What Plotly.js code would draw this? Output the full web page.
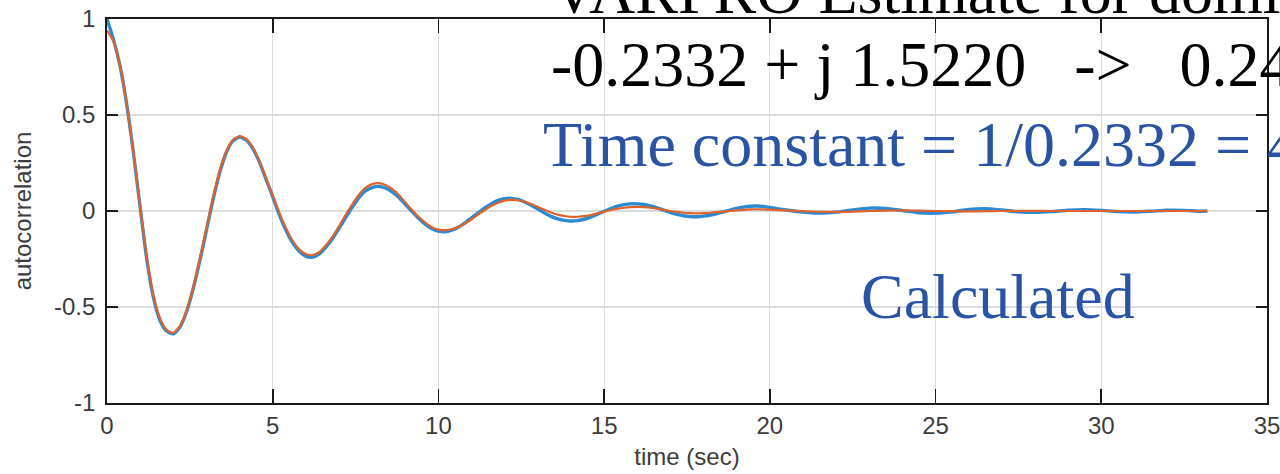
<!DOCTYPE html>
<html>
<head>
<meta charset="utf-8">
<script src="https://cdn.plot.ly/plotly-3.0.1.min.js"></script>
<style>
  html, body { margin: 0; padding: 0; background: #ffffff; }
  #chart { width: 1280px; height: 474px; }
</style>
</head>
<body>
<div id="chart"></div>
<script>
// Lag axis (seconds)
const lagSec = [
  0.0, 0.2, 0.4, 0.6, 0.8, 1.0, 1.2, 1.4, 1.6, 1.8,
  2.0, 2.2, 2.4, 2.6, 2.8, 3.0, 3.2, 3.4, 3.6, 3.8,
  4.0, 4.2, 4.4, 4.6, 4.8, 5.0, 5.2, 5.4, 5.6, 5.8,
  6.0, 6.2, 6.4, 6.6, 6.8, 7.0, 7.2, 7.4, 7.6, 7.8,
  8.0, 8.2, 8.4, 8.6, 8.8, 9.0, 9.2, 9.4, 9.6, 9.8,
  10.0, 10.2, 10.4, 10.6, 10.8, 11.0, 11.2, 11.4, 11.6, 11.8,
  12.0, 12.2, 12.4, 12.6, 12.8, 13.0, 13.2, 13.4, 13.6, 13.8,
  14.0, 14.2, 14.4, 14.6, 14.8, 15.0, 15.2, 15.4, 15.6, 15.8,
  16.0, 16.2, 16.4, 16.6, 16.8, 17.0, 17.2, 17.4, 17.6, 17.8,
  18.0, 18.2, 18.4, 18.6, 18.8, 19.0, 19.2, 19.4, 19.6, 19.8,
  20.0, 20.5, 21.0, 21.5, 22.0, 22.5, 23.0, 23.5, 24.0, 24.5,
  25.0, 25.5, 26.0, 26.5, 27.0, 27.5, 28.0, 28.5, 29.0, 29.5,
  30.0, 30.5, 31.0, 31.5, 32.0, 32.5, 33.0, 33.2
];

// Autocorrelation measured from the data record
const measuredAcf = [
  1.000, 0.890, 0.750, 0.550, 0.300, 0.020, -0.250, -0.450, -0.570, -0.625,
  -0.640, -0.605, -0.525, -0.405, -0.260, -0.100, 0.060, 0.200, 0.305, 0.365,
  0.385, 0.370, 0.325, 0.255, 0.165, 0.075, -0.020, -0.100, -0.165, -0.210,
  -0.235, -0.240, -0.225, -0.190, -0.145, -0.090, -0.035, 0.020, 0.070, 0.105,
  0.122, 0.128, 0.120, 0.100, 0.072, 0.035, -0.002, -0.038, -0.068, -0.092,
  -0.105, -0.108, -0.100, -0.085, -0.062, -0.036, -0.010, 0.016, 0.038, 0.055,
  0.064, 0.066, 0.060, 0.047, 0.030, 0.010, -0.010, -0.028, -0.041, -0.049,
  -0.052, -0.050, -0.043, -0.031, -0.016, -0.001, 0.013, 0.025, 0.033, 0.037,
  0.037, 0.034, 0.026, 0.016, 0.004, -0.008, -0.018, -0.025, -0.029, -0.030,
  -0.027, -0.021, -0.013, -0.004, 0.005, 0.013, 0.020, 0.025, 0.026, 0.024,
  0.018, 0.005, -0.006, -0.011, -0.006, 0.006, 0.015, 0.013, 0.002, -0.009,
  -0.011, -0.004, 0.008, 0.012, 0.005, -0.004, -0.007, -0.003, 0.004, 0.007,
  0.003, -0.003, -0.005, -0.001, 0.004, 0.003, -0.001, 0.000
];

// Autocorrelation of the fitted two-pole model
const calculatedAcf = [
  0.940, 0.880, 0.750, 0.550, 0.300, 0.020, -0.240, -0.440, -0.560, -0.620,
  -0.635, -0.600, -0.520, -0.400, -0.250, -0.090, 0.070, 0.210, 0.310, 0.370,
  0.390, 0.375, 0.330, 0.260, 0.170, 0.080, -0.010, -0.090, -0.155, -0.200,
  -0.225, -0.230, -0.215, -0.180, -0.135, -0.080, -0.020, 0.035, 0.085, 0.120,
  0.140, 0.145, 0.135, 0.115, 0.085, 0.045, 0.005, -0.030, -0.060, -0.085,
  -0.097, -0.100, -0.095, -0.083, -0.065, -0.043, -0.018, 0.005, 0.027, 0.043,
  0.054, 0.058, 0.056, 0.048, 0.036, 0.021, 0.006, -0.008, -0.019, -0.026,
  -0.030, -0.030, -0.027, -0.021, -0.013, -0.004, 0.005, 0.012, 0.017, 0.020,
  0.021, 0.020, 0.017, 0.012, 0.006, 0.000, -0.005, -0.009, -0.011, -0.012,
  -0.011, -0.009, -0.006, -0.003, 0.000, 0.003, 0.006, 0.008, 0.009, 0.008,
  0.007, 0.003, -0.001, -0.004, -0.005, -0.003, 0.000, 0.002, 0.003, 0.002,
  0.000, -0.001, -0.002, -0.001, 0.000, 0.001, 0.001, 0.000, 0.000, 0.000,
  0.000, 0.000, 0.000, 0.000, 0.000, 0.000, 0.000, 0.000
];

const xTicks = [0, 5, 10, 15, 20, 25, 30, 35];
const xTickText = ['0', '5', '10', '15', '20', '25', '30', '35'];
const yTicks = [-1, -0.5, 0, 0.5, 1];
const yTickText = ['-1', '-0.5', '0', '0.5', '1'];

const serif = 'Liberation Serif, Times New Roman, serif';
const sans = 'Liberation Sans, Arial, Helvetica, sans-serif';
const noteBlue = '#2a53a8';
const labelGray = '#3c3c3c';

const traces = [
  {
    x: lagSec, y: measuredAcf, type: 'scatter', mode: 'lines',
    line: { color: '#2b8ad2', width: 3.4, shape: 'spline', smoothing: 0.6 },
    hoverinfo: 'skip'
  },
  {
    x: lagSec, y: calculatedAcf, type: 'scatter', mode: 'lines',
    line: { color: '#e0622a', width: 2.2, shape: 'spline', smoothing: 0.6 },
    hoverinfo: 'skip'
  }
];

const axisCommon = {
  showline: true, linecolor: '#1a1a1a', linewidth: 1.8, mirror: 'allticks',
  ticks: 'inside', tickcolor: '#1a1a1a', tickwidth: 1.8,
  showgrid: true, gridcolor: '#dcdcdc', gridwidth: 1.2,
  zeroline: false, tickmode: 'array', ticklabeloverflow: 'allow',
  tickfont: { family: sans, size: 24, color: labelGray }
};

const layout = {
  width: 1280, height: 474,
  margin: { l: 107, r: 13, t: 19, b: 71 },
  paper_bgcolor: '#ffffff', plot_bgcolor: '#ffffff',
  showlegend: false,
  xaxis: Object.assign({}, axisCommon, {
    range: [0, 35], tickvals: xTicks, ticktext: xTickText, ticklen: 14,
    title: { text: 'time (sec)', font: { family: sans, size: 24, color: labelGray }, standoff: 11 }
  }),
  yaxis: Object.assign({}, axisCommon, {
    range: [-1, 1], tickvals: yTicks, ticktext: yTickText, ticklen: 11,
    ticklabelstandoff: 5,
    title: { text: 'autocorrelation', font: { family: sans, size: 24, color: labelGray }, standoff: 16 }
  }),
  annotations: [
    {
      xref: 'paper', yref: 'paper', x: 0.381, y: 1.072, xanchor: 'left', yanchor: 'middle',
      text: 'VARPRO Estimate for dominant pole', showarrow: false,
      font: { family: serif, size: 64, color: '#000000' }
    },
    {
      xref: 'paper', yref: 'paper', x: 0.381, y: 0.881, xanchor: 'left', yanchor: 'middle',
      text: '-0.2332 + j 1.5220&nbsp;&nbsp;&nbsp;-&gt;&nbsp;&nbsp;&nbsp;0.24', showarrow: false,
      font: { family: serif, size: 64, color: '#000000' }
    },
    {
      xref: 'paper', yref: 'paper', x: 0.374, y: 0.672, xanchor: 'left', yanchor: 'middle',
      text: 'Time constant = 1/0.2332 = 4.29', showarrow: false,
      font: { family: serif, size: 64, color: noteBlue }
    },
    {
      xref: 'paper', yref: 'paper', x: 0.648, y: 0.278, xanchor: 'left', yanchor: 'middle',
      text: 'Calculated', showarrow: false,
      font: { family: serif, size: 64, color: noteBlue }
    }
  ]
};

Plotly.newPlot('chart', traces, layout, { staticPlot: true, displayModeBar: false });
</script>
</body>
</html>
